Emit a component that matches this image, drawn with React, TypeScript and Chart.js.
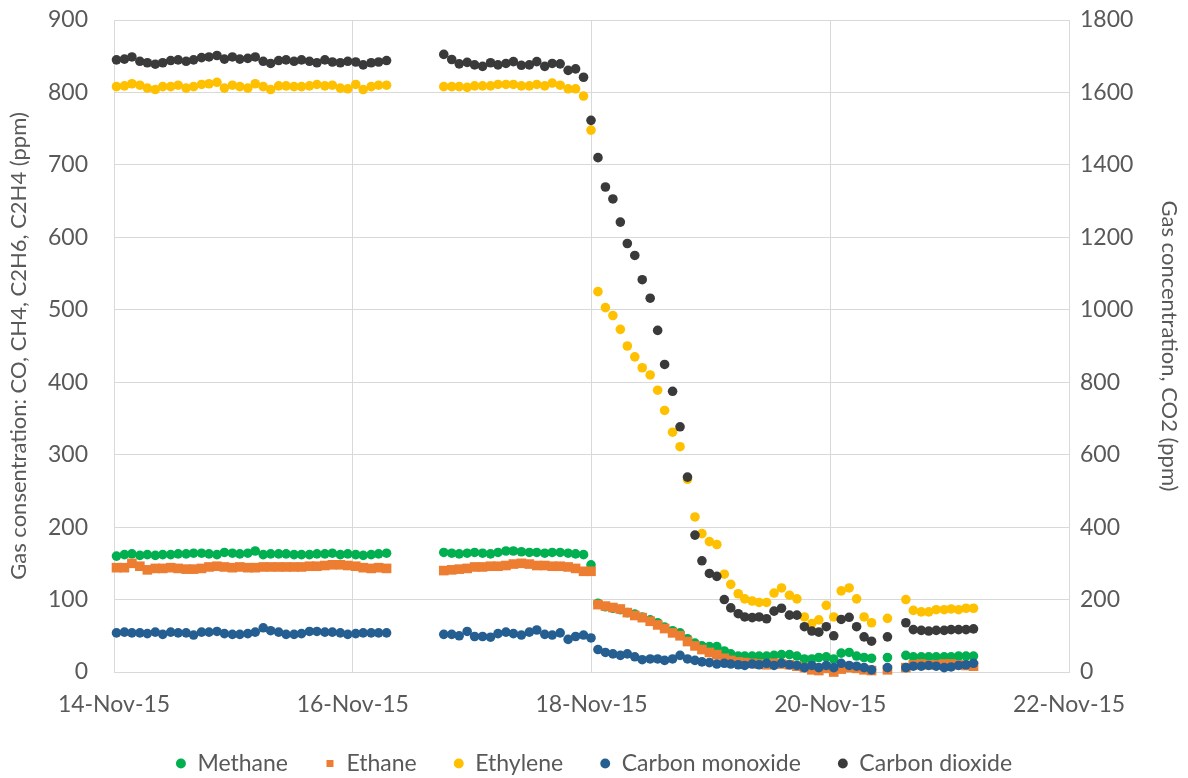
import React, { useEffect, useRef } from "react";
import { Chart, registerables } from "chart.js";

Chart.register(...registerables);

// x-axis: hours since 14-Nov-15 00:00
const X_TICK_HOURS = [0, 48, 96, 144, 192];
const X_TICK_LABELS = ["14-Nov-15", "16-Nov-15", "18-Nov-15", "20-Nov-15", "22-Nov-15"];

const LEFT_TITLE = "Gas consentration: CO, CH4, C2H6, C2H4 (ppm)";
const RIGHT_TITLE = "Gas concentration, CO2 (ppm)";

// sampling times (hours since 14-Nov-15 00:00)
const SAMPLE_HOURS = [
  0.5, 2.1, 3.6, 5.2, 6.7, 8.3, 9.8, 11.4, 12.9, 14.5, 16.0, 17.6, 19.1, 20.7, 22.2, 23.8, 25.3, 26.9,
  28.4, 30.0, 31.5, 33.1, 34.6, 36.2, 37.7, 39.3, 40.8, 42.4, 43.9, 45.5, 47.0, 48.6, 50.1, 51.7, 53.2, 54.8,
  66.3, 67.9, 69.4, 71.0, 72.5, 74.1, 75.7, 77.2, 78.8, 80.3, 81.9, 83.5, 85.0, 86.6, 88.1, 89.7, 91.3, 92.8,
  94.4, 95.9,
  97.3, 98.8, 100.3, 101.8, 103.2, 104.7, 106.2, 107.8, 109.3, 110.7, 112.3, 113.8, 115.3, 116.8, 118.2,
  119.7, 121.2, 122.7, 124.0, 125.5, 126.8, 128.3, 129.7, 131.2, 132.7, 134.2, 135.8, 137.3, 138.8, 140.3,
  141.7, 143.2, 144.7, 146.2, 147.8, 149.3, 150.8, 152.3, 155.5, 159.2, 160.7, 162.3, 163.8, 165.3, 166.9,
  168.3, 169.8, 171.3, 172.8,
];

const METHANE = [
  160, 162, 163, 161, 162, 161, 162, 162, 163, 163, 164, 164, 163, 162, 165, 164, 163, 164, 167, 162,
  163, 163, 163, 162, 162, 162, 163, 163, 164, 162, 163, 162, 161, 162, 163, 164,
  165, 164, 163, 164, 165, 164, 163, 165, 167, 167, 166, 165, 165, 164, 165, 165, 164, 163, 162, 148,
  95, 90, 88, 86, 82, 80, 76, 72, 68, 62, 57, 54, 46, 40, 36, 35, 35, 29, 25, 22,
  22, 22, 22, 22, 23, 24, 24, 22, 18, 18, 20, 21, 18, 26, 27, 22, 20, 19, 20,
  23, 21, 21, 21, 21, 21, 21, 22, 22, 22,
];

const ETHANE = [
  144, 144, 150, 146, 141, 143, 143, 144, 143, 142, 142, 143, 145, 146, 145, 144, 145, 144, 144, 145,
  145, 145, 145, 145, 145, 146, 146, 147, 148, 148, 147, 146, 144, 143, 144, 143,
  140, 141, 142, 143, 145, 145, 146, 146, 147, 149, 150, 149, 147, 147, 146, 146, 145, 143, 139, 139,
  93, 91, 89, 87, 82, 78, 75, 70, 65, 60, 54, 50, 42, 36, 31, 27, 24, 19, 16, 14,
  13, 12, 11, 10, 12, 11, 10, 8, 6, 3, 2, 5, 0, 4, 6, 5, 3, 2, 3,
  6, 10, 11, 10, 10, 11, 11, 10, 9, 8,
];

const ETHYLENE = [
  808, 809, 812, 810, 806, 804, 808, 808, 810, 806, 808, 811, 812, 814, 806, 810, 808, 806, 812, 808,
  804, 809, 809, 808, 808, 809, 811, 809, 810, 806, 805, 811, 804, 808, 810, 810,
  808, 808, 808, 807, 809, 809, 809, 811, 811, 811, 809, 809, 811, 809, 813, 810, 805, 805, 795, 748,
  525, 503, 492, 473, 450, 435, 420, 410, 389, 361, 331, 311, 266, 214, 191, 180, 176, 135, 121, 108,
  101, 98, 96, 96, 109, 116, 106, 101, 76, 67, 72, 92, 76, 112, 116, 101, 76, 68, 74,
  100, 85, 83, 83, 86, 86, 87, 86, 88, 88,
];

const CARBON_MONOXIDE = [
  54, 55, 54, 54, 53, 55, 52, 55, 54, 54, 51, 55, 55, 56, 53, 52, 52, 53, 55, 61,
  57, 55, 52, 52, 53, 56, 56, 55, 55, 54, 52, 53, 54, 54, 54, 54,
  52, 52, 50, 56, 49, 49, 48, 53, 55, 53, 51, 55, 58, 52, 51, 54, 45, 49, 51, 47,
  31, 27, 25, 23, 25, 21, 17, 18, 18, 16, 18, 23, 18, 16, 14, 13, 11, 12, 11, 10,
  9, 11, 10, 12, 9, 12, 10, 9, 6, 9, 6, 9, 6, 12, 9, 8, 6, 3, 6,
  6, 8, 8, 9, 8, 6, 7, 9, 10, 12,
];

const CARBON_DIOXIDE = [
  1690, 1692, 1698, 1686, 1682, 1678, 1682, 1688, 1690, 1686, 1690, 1696, 1698, 1702, 1692, 1698, 1692, 1694, 1698, 1686,
  1680, 1688, 1690, 1686, 1690, 1686, 1682, 1690, 1684, 1682, 1686, 1684, 1676, 1682, 1684, 1688,
  1705, 1691, 1679, 1683, 1676, 1672, 1682, 1676, 1680, 1685, 1675, 1676, 1685, 1672, 1680, 1679, 1661, 1665, 1642, 1523,
  1420, 1339, 1306, 1242, 1183, 1150, 1083, 1032, 943, 849, 775, 677, 538, 378, 307, 272, 264, 200, 177, 161,
  152, 150, 152, 147, 168, 176, 157, 157, 125, 113, 110, 125, 100, 145, 151, 125, 97, 85, 97,
  136, 117, 115, 113, 115, 115, 117, 117, 117, 119,
];

const SERIES_NAMES = ["Methane", "Ethane", "Ethylene", "Carbon monoxide", "Carbon dioxide"];
const SERIES_VALUES = [METHANE, ETHANE, ETHYLENE, CARBON_MONOXIDE, CARBON_DIOXIDE];
const SERIES_COLORS = ["#00B050", "#ED7D31", "#FFC000", "#255E91", "#3A3A3A"];
const SERIES_SHAPES = ["circle", "rect", "circle", "circle", "circle"];
const SERIES_AXES = ["y", "y", "y", "y", "y2"];

const FONT_FAMILY = "Lato, 'Liberation Sans', sans-serif";
const TEXT_COLOR = "#595959";
const GRID_COLOR = "#d9d9d9";

// keeps the wide horizontal spacing between legend entries while reserving a shorter box
const legendHeightPlugin = {
  id: "legendHeight",
  afterInit(chart: any) {
    const lg = chart.legend;
    if (!lg || lg.__patched) return;
    const origFit = lg.fit.bind(lg);
    lg.fit = function () {
      origFit();
      this.height = 63;
    };
    lg.__patched = true;
  },
};

export default function App() {
  const canvasRef = useRef<HTMLCanvasElement | null>(null);

  useEffect(() => {
    document.body.style.margin = "0";
    const canvas = canvasRef.current;
    if (!canvas) return;

    const datasets = SERIES_NAMES.map((name, i) => ({
      label: name,
      data: SAMPLE_HOURS.map((h, j) => ({ x: h, y: SERIES_VALUES[i][j] })),
      backgroundColor: SERIES_COLORS[i],
      borderColor: SERIES_COLORS[i],
      borderWidth: 0,
      pointStyle: SERIES_SHAPES[i],
      pointRadius: SERIES_SHAPES[i] === "rect" ? 6.8 : 4.8,
      pointBorderWidth: 0,
      showLine: false,
      yAxisID: SERIES_AXES[i],
      order: SERIES_NAMES.length - i,
      clip: false as any,
    }));

    const tickFont = { family: FONT_FAMILY, size: 23 };
    const HIDDEN = "rgba(0,0,0,0)";

    const chart = new Chart(canvas, {
      type: "scatter",
      data: { datasets: datasets as any },
      plugins: [legendHeightPlugin],
      options: {
        animation: false,
        responsive: false,
        maintainAspectRatio: false,
        events: [],
        layout: { padding: { top: 20, left: 0, right: 0, bottom: 0 } },
        scales: {
          x: {
            type: "linear",
            min: X_TICK_HOURS[0],
            max: X_TICK_HOURS[X_TICK_HOURS.length - 1],
            afterBuildTicks: (scale: any) => {
              scale.ticks = X_TICK_HOURS.map((v) => ({ value: v }));
            },
            afterFit: (scale: any) => {
              scale.height = 43;
            },
            ticks: {
              autoSkip: false,
              maxRotation: 0,
              padding: 19,
              color: TEXT_COLOR,
              font: tickFont,
              callback: (v: any) => {
                const idx = X_TICK_HOURS.indexOf(Number(v));
                return idx >= 0 ? X_TICK_LABELS[idx] : "";
              },
            },
            grid: { color: GRID_COLOR, drawTicks: false, lineWidth: 1 },
            border: { color: GRID_COLOR },
          },
          y: {
            position: "left",
            min: 0,
            max: 900,
            afterFit: (scale: any) => {
              scale.width = 114;
            },
            ticks: {
              stepSize: 100,
              padding: 0,
              color: TEXT_COLOR,
              font: tickFont,
              callback: (v: any) => String(v),
            },
            grid: { color: GRID_COLOR, drawTicks: true, tickLength: 26, tickColor: HIDDEN },
            border: { display: false },
            title: {
              display: true,
              text: LEFT_TITLE,
              color: TEXT_COLOR,
              font: { family: FONT_FAMILY, size: 22 },
              padding: { top: 6, bottom: 0 },
            },
          },
          y2: {
            position: "right",
            min: 0,
            max: 1800,
            afterFit: (scale: any) => {
              scale.width = 119;
            },
            ticks: {
              stepSize: 200,
              padding: 0,
              color: TEXT_COLOR,
              font: tickFont,
              callback: (v: any) => String(v),
            },
            grid: { drawOnChartArea: false, drawTicks: true, tickLength: 11, tickColor: HIDDEN, color: HIDDEN },
            border: { display: false },
            title: {
              display: true,
              text: RIGHT_TITLE,
              color: TEXT_COLOR,
              font: { family: FONT_FAMILY, size: 22 },
              padding: { top: 6, bottom: 0 },
            },
          },
        },
        plugins: {
          legend: {
            position: "bottom",
            labels: {
              usePointStyle: true,
              boxWidth: 10,
              boxHeight: 7,
              padding: 37,
              color: TEXT_COLOR,
              font: { family: FONT_FAMILY, size: 23 },
              sort: (a: any, b: any) => a.datasetIndex - b.datasetIndex,
            },
          },
          tooltip: { enabled: false },
        },
      } as any,
    });

    return () => {
      chart.destroy();
    };
  }, []);

  return (
    <div style={{ width: 1188, height: 778, position: "relative" }}>
      <canvas ref={canvasRef} width={1188} height={778} style={{ display: "block" }} />
    </div>
  );
}
